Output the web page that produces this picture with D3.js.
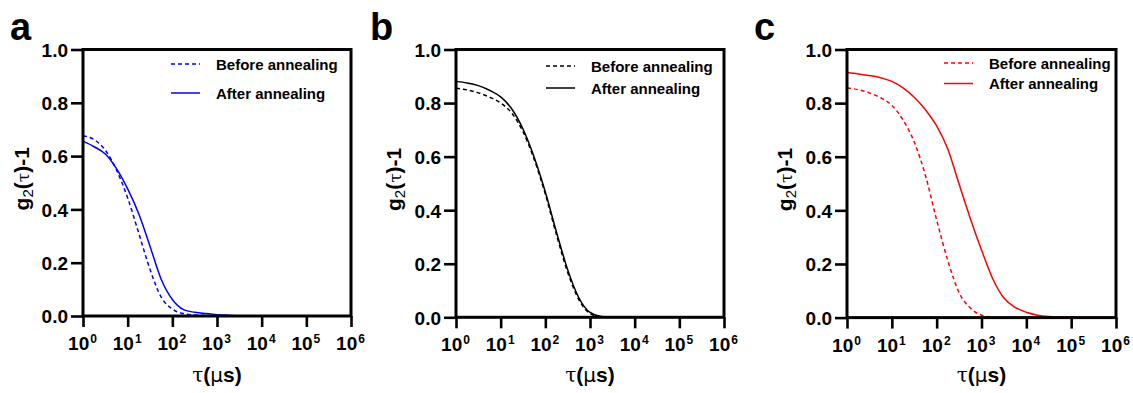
<!DOCTYPE html>
<html>
<head>
<meta charset="utf-8">
<script src="https://cdn.jsdelivr.net/npm/d3@7"></script>
<style>
  html, body { margin: 0; padding: 0; background: #fff; }
  svg { display: block; font-family: "Liberation Sans", Arial, sans-serif; }
</style>
</head>
<body>
<svg id="chart" width="1133" height="393"></svg>
<script>
// ---------- DATA ----------
const panelLetters = ["a", "b", "c"];
const seriesNames = ["Before annealing", "After annealing"];
const xTickExponents = [0, 1, 2, 3, 4, 5, 6];
const yTicks = [0.0, 0.2, 0.4, 0.6, 0.8, 1.0];
// delay times tau (µs), one every quarter decade
const tau = [1, 1.778, 3.162, 5.623, 10, 17.78, 31.62, 56.23, 100, 177.8, 316.2, 562.3,
             1000, 1778, 3162, 5623, 10000, 17783, 31623, 56234, 100000, 177828, 316228, 562341, 1000000];
const aBefore = [0.676, 0.662, 0.622, 0.548, 0.443, 0.310, 0.175, 0.071, 0.026, 0.009, 0.004, 0.002, 0.001, 0, 0, 0, 0, 0, 0, 0, 0, 0, 0, 0, 0];
const aAfter  = [0.656, 0.635, 0.608, 0.553, 0.477, 0.383, 0.262, 0.138, 0.062, 0.024, 0.014, 0.009, 0.005, 0.003, 0.001, 0.001, 0, 0, 0, 0, 0, 0, 0, 0, 0];
const bBefore = [0.855, 0.849, 0.838, 0.822, 0.800, 0.762, 0.693, 0.590, 0.460, 0.308, 0.168, 0.066, 0.014, 0.002, 0, 0, 0, 0, 0, 0, 0, 0, 0, 0, 0];
const bAfter  = [0.881, 0.875, 0.865, 0.848, 0.823, 0.778, 0.703, 0.598, 0.468, 0.318, 0.178, 0.073, 0.018, 0.003, 0.001, 0, 0, 0, 0, 0, 0, 0, 0, 0, 0];
const cBefore = [0.857, 0.850, 0.838, 0.820, 0.792, 0.737, 0.655, 0.530, 0.364, 0.212, 0.093, 0.036, 0.009, 0.002, 0, 0, 0, 0, 0, 0, 0, 0, 0, 0, 0];
const cAfter  = [0.914, 0.909, 0.903, 0.895, 0.881, 0.857, 0.822, 0.775, 0.715, 0.628, 0.498, 0.370, 0.252, 0.145, 0.073, 0.038, 0.020, 0.009, 0.004, 0.002, 0.001, 0, 0, 0, 0];
const panelSeries = [[aBefore, aAfter], [bBefore, bAfter], [cBefore, cAfter]];
const panelColors = ["#0000ff", "#000000", "#ff0000"];

// ---------- LAYOUT ----------
const layouts = [
  { left: 83,  right: 351,  top: 49.5, bottom: 316,   letterX: 10,  titleX: 29,  legLineX: 171, legTextX: 216, legY: [64, 93] },
  { left: 456, right: 724,  top: 49.5, bottom: 317.3, letterX: 370, titleX: 401, legLineX: 546, legTextX: 591, legY: [66, 88] },
  { left: 847, right: 1116, top: 49.5, bottom: 317.6, letterX: 754, titleX: 792, legLineX: 944, legTextX: 989, legY: [63, 83.5] }
];

const svg = d3.select("#chart");

layouts.forEach((L, pi) => {
  const color = panelColors[pi];
  const x = d3.scaleLog().domain([1, 1e6]).range([L.left, L.right]);
  const y = d3.scaleLinear().domain([0, 1]).range([L.bottom, L.top]);
  const g = svg.append("g");

  // data lines
  const line = d3.line()
    .x((d, i) => x(tau[i]))
    .y(d => y(d))
    .curve(d3.curveMonotoneX);
  panelSeries[pi].forEach((vals, si) => {
    g.append("path")
      .datum(vals)
      .attr("d", line)
      .attr("fill", "none")
      .attr("stroke", color)
      .attr("stroke-width", 1.5)
      .attr("stroke-dasharray", si === 0 ? "4,3" : null);
  });

  // x axis
  const xAxis = d3.axisBottom(x)
    .tickValues(xTickExponents.map(e => Math.pow(10, e)))
    .tickSize(11).tickPadding(9).tickFormat("");
  const gx = g.append("g").attr("transform", `translate(0,${L.bottom})`).call(xAxis);
  gx.select(".domain").remove();
  gx.selectAll(".tick line").attr("stroke", "#000").attr("stroke-width", 2.6);
  gx.selectAll(".tick").each(function(d, i) {
    const t = d3.select(this).append("text")
      .attr("x", -1).attr("y", 34).attr("text-anchor", "middle")
      .attr("fill", "#000").attr("font-weight", "bold").attr("font-size", 19);
    t.append("tspan").text("10");
    t.append("tspan").attr("font-size", 12).attr("dx", 1).attr("dy", -7).text(xTickExponents[i]);
  });

  // y axis
  const yAxis = d3.axisLeft(y).tickValues(yTicks).tickSize(12).tickPadding(3)
    .tickFormat(d3.format(".1f"));
  const gy = g.append("g").attr("transform", `translate(${L.left},0)`).call(yAxis);
  gy.select(".domain").remove();
  gy.selectAll(".tick line").attr("stroke", "#000").attr("stroke-width", 2.6);
  gy.selectAll(".tick text").attr("fill", "#000").attr("font-weight", "bold")
    .attr("font-size", 19).attr("dy", "0.36em");

  // frame
  g.append("rect")
    .attr("x", L.left).attr("y", L.top)
    .attr("width", L.right - L.left).attr("height", L.bottom - L.top)
    .attr("fill", "none").attr("stroke", "#000").attr("stroke-width", 3);

  // x title
  const xt = g.append("text")
    .attr("x", (L.left + L.right) / 2).attr("y", 382)
    .attr("text-anchor", "middle").attr("font-size", 21).attr("font-weight", "bold").attr("fill", "#000");
  xt.append("tspan").attr("font-weight", "normal").attr("font-family", "DejaVu Serif").attr("font-size", 20).text("τ");
  xt.append("tspan").text("(");
  xt.append("tspan").attr("font-weight", "normal").attr("font-family", "DejaVu Sans").attr("font-size", 20).text("μ");
  xt.append("tspan").text("s)");

  // y title
  const cy = (L.top + L.bottom) / 2 - 4;
  const yt = g.append("text")
    .attr("transform", `translate(${L.titleX},${cy}) rotate(-90)`)
    .attr("text-anchor", "middle").attr("font-size", 21).attr("font-weight", "bold").attr("fill", "#000");
  yt.append("tspan").text("g");
  yt.append("tspan").attr("font-size", 15).attr("font-weight", "normal").attr("dy", 4).text("2");
  yt.append("tspan").attr("dy", -4).text("(");
  yt.append("tspan").attr("font-weight", "normal").attr("font-family", "DejaVu Serif").attr("font-size", 17).text("τ");
  yt.append("tspan").text(")-1");

  // panel letter
  g.append("text")
    .attr("x", L.letterX).attr("y", 40)
    .attr("font-size", 38).attr("font-weight", "bold").attr("fill", "#000")
    .text(panelLetters[pi]);

  // legend
  seriesNames.forEach((name, si) => {
    const ly = L.legY[si];
    g.append("line")
      .attr("x1", L.legLineX).attr("x2", L.legLineX + 29)
      .attr("y1", ly).attr("y2", ly)
      .attr("stroke", color).attr("stroke-width", 1.5)
      .attr("stroke-dasharray", si === 0 ? "4,3" : null);
    g.append("text")
      .attr("x", L.legTextX).attr("y", ly + 5.5)
      .attr("font-size", 15).attr("font-weight", "bold").attr("fill", "#000")
      .text(name);
  });
});
</script>
</body>
</html>
